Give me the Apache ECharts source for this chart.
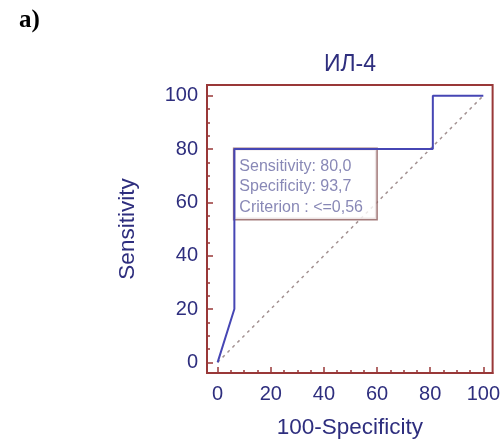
<!DOCTYPE html>
<html>
<head>
<meta charset="utf-8">
<script src="https://cdn.jsdelivr.net/npm/echarts@6/dist/echarts.min.js"></script>
<style>
html,body{margin:0;padding:0;background:#fff;}
#chart{width:503px;height:448px;}
</style>
</head>
<body>
<div id="chart"></div>
<script>
const titleText = 'ИЛ-4';
const panelLabel = 'a)';
const xName = '100-Specificity';
const yName = 'Sensitivity';
const majorTicks = [0, 20, 40, 60, 80, 100];
const minorTicks = [0, 5, 10, 15, 20, 25, 30, 35, 40, 45, 50, 55, 60, 65, 70, 75, 80, 85, 90, 95, 100];
const rocX = [0, 6.3, 6.3, 81, 81, 100];
const rocY = [0, 20, 80, 80, 100, 100];
const diagX = [0, 100];
const diagY = [0, 100];
const boxAnchor = [6.3, 80];
const boxLines = ['Sensitivity: 80,0', 'Specificity: 93,7', 'Criterion : <=0,56'];

const frameColor = '#993838';
const navy = '#2e2e7e';
const font = 'Liberation Sans, Arial, sans-serif';

function pairs(xs, ys) { return xs.map((x, i) => [x, ys[i]]); }

const chart = echarts.init(document.getElementById('chart'), null, {renderer: 'canvas'});

function majorAxis(isX) {
  return {
    type: 'value',
    min: -4,
    max: isX ? 103.5 : 104,
    position: isX ? 'bottom' : 'left',
    name: isX ? xName : yName,
    nameLocation: 'middle',
    nameGap: isX ? 43 : 68,
    nameRotate: isX ? 0 : 90,
    nameTextStyle: {color: navy, fontSize: 22.5, fontFamily: font},
    axisLine: {show: true, onZero: false, lineStyle: {color: frameColor, width: 2}},
    axisTick: {show: true, inside: true, length: 6, customValues: majorTicks, lineStyle: {color: frameColor, width: 1.5}},
    axisLabel: {show: true, customValues: majorTicks, color: navy, fontSize: 20, fontFamily: font, margin: isX ? 11 : 9},
    splitLine: {show: false}
  };
}
function minorAxis(isX) {
  return {
    type: 'value',
    min: -4,
    max: isX ? 103.5 : 104,
    position: isX ? 'bottom' : 'left',
    axisLine: {show: false, onZero: false},
    axisTick: {show: true, inside: true, length: 3, customValues: minorTicks, lineStyle: {color: frameColor, width: 1.5}},
    axisLabel: {show: false},
    splitLine: {show: false}
  };
}

chart.setOption({
  animation: false,
  backgroundColor: '#ffffff',
  graphic: [{
    type: 'text', left: 19, top: 8,
    style: {text: panelLabel, font: 'bold 25px "Liberation Serif", "Times New Roman", serif', fill: '#000'}
  }, {
    type: 'text', x: 350, y: 65,
    style: {text: titleText, align: 'center', verticalAlign: 'middle', font: '23px "Liberation Sans", Arial, sans-serif', fill: navy}
  }],
  grid: {left: 207, top: 85, width: 287, height: 288, show: true, borderColor: frameColor, borderWidth: 2, backgroundColor: 'transparent'},
  xAxis: [majorAxis(true), minorAxis(true)],
  yAxis: [majorAxis(false), minorAxis(false)],
  series: [
    {
      type: 'line', data: pairs(diagX, diagY), symbol: 'none', z: 1,
      lineStyle: {color: '#a39292', width: 1.5, type: [3, 4]}
    },
    {
      type: 'scatter', data: [boxAnchor], symbolSize: 0, z: 2, silent: true,
      label: {
        show: true, position: [0, 0], align: 'left', verticalAlign: 'top',
        formatter: boxLines.join('\n'),
        color: '#6a6aa4', fontSize: 16, fontFamily: font, lineHeight: 20.5,
        backgroundColor: '#ffffff', borderColor: '#8c5a5a', borderWidth: 1.5,
        padding: [7, 5, 2, 5], width: 132, height: 61
      }
    },
    {
      type: 'line', data: pairs(rocX, rocY), symbol: 'none', z: 3,
      lineStyle: {color: '#4646b4', width: 2}
    }
  ]
});
</script>
</body>
</html>
